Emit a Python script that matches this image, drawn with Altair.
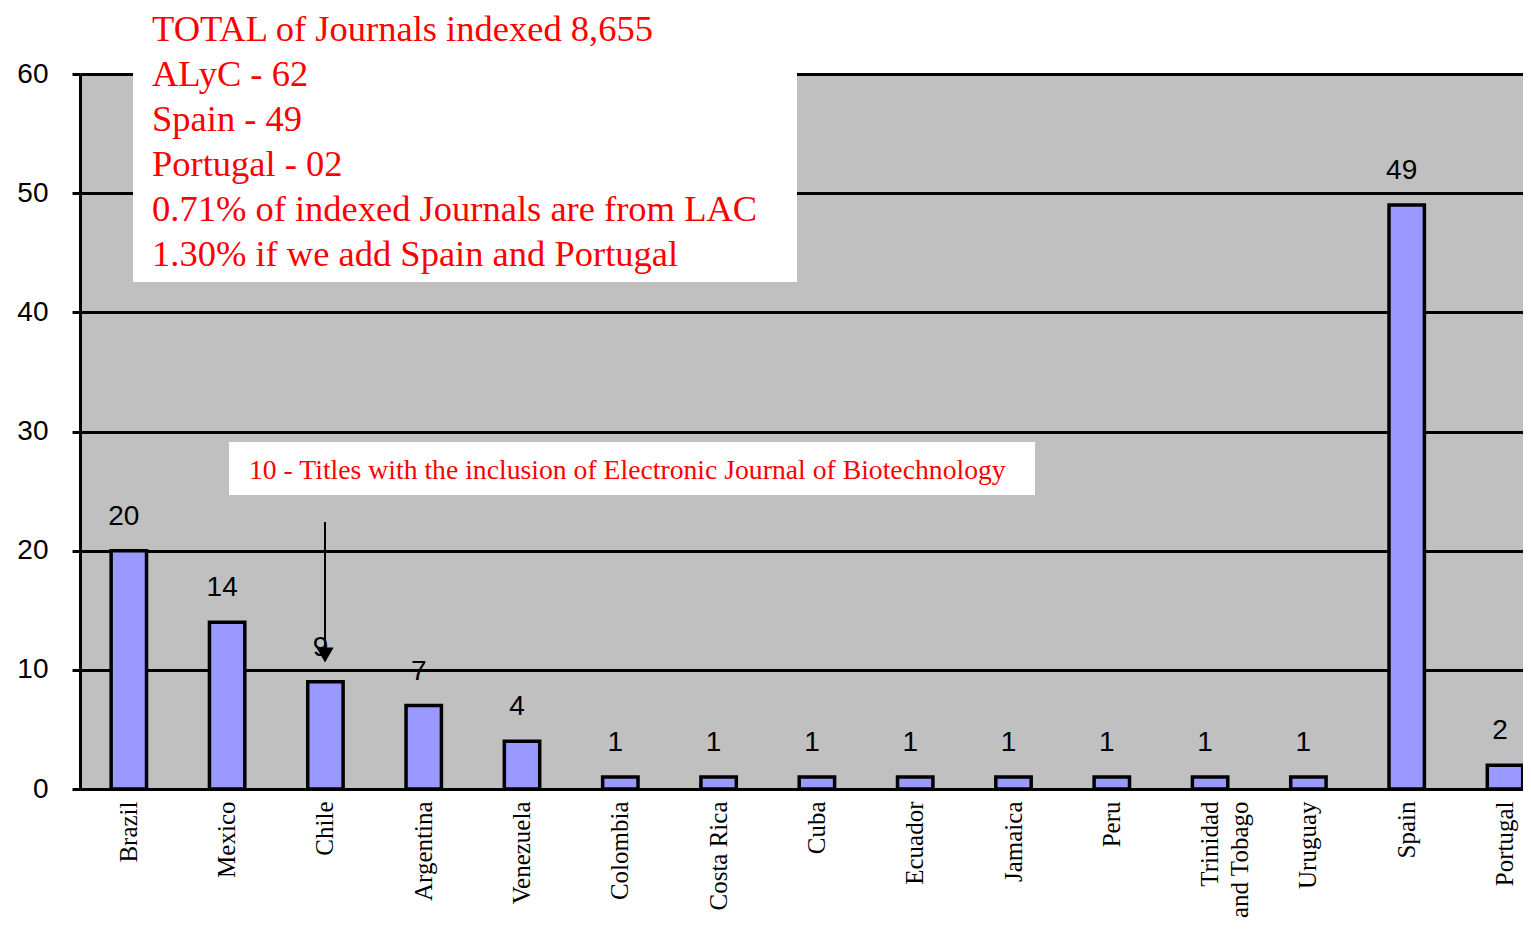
import altair as alt
import pandas as pd

countries = ["Brazil", "Mexico", "Chile", "Argentina", "Venezuela", "Colombia",
             "Costa Rica", "Cuba", "Ecuador", "Jamaica", "Peru",
             "Trinidad and Tobago", "Uruguay", "Spain", "Portugal"]
journals = [20, 14, 9, 7, 4, 1, 1, 1, 1, 1, 1, 1, 1, 49, 2]

summary_lines = [
    "TOTAL of Journals indexed 8,655",
    "ALyC - 62",
    "Spain - 49",
    "Portugal - 02",
    "0.71% of indexed Journals are from LAC",
    "1.30% if we add Spain and Portugal",
]
note_text = "10 - Titles with the inclusion of Electronic Journal of Biotechnology"

df = pd.DataFrame({"country": countries, "n": journals})
one = pd.DataFrame({"a": [0]})

W, H = 1443, 715

x_enc = alt.X(
    "country:N", sort=countries,
    scale=alt.Scale(paddingInner=0.64, paddingOuter=0.16, align=0.99),
    axis=alt.Axis(
        title=None, labelAngle=-90, ticks=False,
        labelFont="Liberation Serif", labelFontSize=25, labelColor="black",
        labelPadding=12, labelLineHeight=30,
        labelExpr="datum.label == 'Trinidad and Tobago' ? ['Trinidad', 'and Tobago'] : datum.label",
        domainColor="black", domainWidth=3, grid=False,
    ),
)
y_enc = alt.Y(
    "n:Q",
    scale=alt.Scale(domain=[0, 60], nice=False),
    axis=alt.Axis(
        title=None, values=[0, 10, 20, 30, 40, 50, 60],
        labelFont="Liberation Sans", labelFontSize=28, labelColor="black",
        labelPadding=24, tickSize=8, tickColor="black", tickWidth=3,
        domainColor="black", domainWidth=3,
        grid=True, gridColor="black", gridWidth=3, gridOpacity=1,
    ),
)

bars = alt.Chart(df).mark_bar(
    color="#9999FF", stroke="black", strokeWidth=3.5
).encode(x=x_enc, y=y_enc)

labels = alt.Chart(df).mark_text(
    baseline="bottom", dy=-20, dx=-5, font="Liberation Sans", fontSize=28, color="black"
).encode(x=alt.X("country:N", sort=countries), y="n:Q", text="n:Q")

box1 = alt.Chart(one).mark_rect(color="white").encode(
    x=alt.value(53), x2=alt.value(717), y=alt.value(-66), y2=alt.value(208)
)
text1 = alt.Chart(one).mark_text(
    text=summary_lines, align="left", baseline="alphabetic",
    font="Liberation Serif", fontSize=36.5, lineHeight=45, color="#FF0000"
).encode(x=alt.value(72), y=alt.value(-33))

box2 = alt.Chart(one).mark_rect(color="white").encode(
    x=alt.value(149), x2=alt.value(955), y=alt.value(368), y2=alt.value(421)
)
text2 = alt.Chart(one).mark_text(
    text=note_text, align="left", baseline="alphabetic",
    font="Liberation Serif", fontSize=27.7, color="#FF0000"
).encode(x=alt.value(169), y=alt.value(405))

arrow_line = alt.Chart(one).mark_rule(color="black", strokeWidth=2).encode(
    x=alt.value(245), y=alt.value(448), y2=alt.value(578)
)
arrow_head = alt.Chart(one).mark_point(
    shape="triangle-down", filled=True, color="black", size=300, opacity=1
).encode(x=alt.value(245), y=alt.value(581))

chart = alt.layer(
    bars, labels, box1, text1, box2, text2, arrow_line, arrow_head
).properties(
    width=W, height=H,
    autosize=alt.AutoSizeParams(type="none"),
    padding={"left": 72, "top": 66, "right": 0, "bottom": 134},
).configure(background="white").configure_view(fill="#C0C0C0", stroke="transparent")

chart.save("out.html", embed_options={"renderer": "svg", "actions": False})
